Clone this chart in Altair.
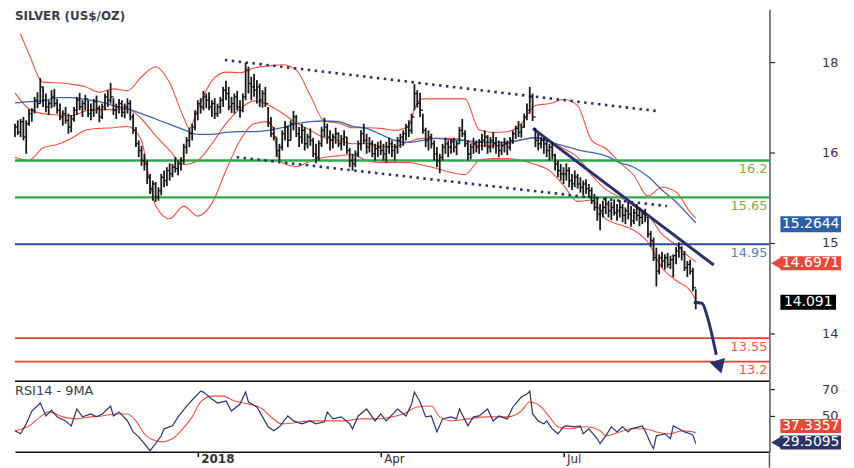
import altair as alt
import pandas as pd

TITLE = "SILVER (US$/OZ)"
RSI_TITLE = "RSI14 - 9MA"

HIGHS = [16.75, 16.80, 16.82, 16.85, 16.80, 16.97, 16.98, 17.15, 17.22, 17.43,
         17.30, 17.20, 17.10, 17.25, 17.27, 17.12, 17.05, 16.95, 17.00, 16.90,
         16.88, 17.00, 17.15, 17.21, 17.10, 17.18, 17.10, 17.05, 17.12, 17.17,
         17.02, 17.05, 17.20, 17.25, 17.36, 17.13, 17.05, 17.12, 17.10, 17.05,
         17.13, 17.10, 16.90, 16.70, 16.50, 16.42, 16.30, 16.20, 16.00, 15.90,
         15.88, 15.80, 16.00, 16.05, 16.10, 16.16, 16.15, 16.25, 16.20, 16.25,
         16.45, 16.55, 16.69, 16.75, 16.95, 17.10, 17.13, 17.24, 17.20, 17.22,
         17.10, 17.13, 17.05, 17.15, 17.30, 17.39, 17.30, 17.15, 17.20, 17.24,
         17.10, 17.20, 17.66, 17.60, 17.45, 17.49, 17.40, 17.35, 17.25, 17.30,
         17.00, 16.85, 16.70, 16.54, 16.45, 16.65, 16.79, 16.72, 16.80, 16.94,
         16.88, 16.70, 16.75, 16.70, 16.60, 16.68, 16.54, 16.45, 16.50, 16.70,
         16.84, 16.75, 16.65, 16.60, 16.69, 16.62, 16.58, 16.65, 16.55, 16.39,
         16.30, 16.35, 16.50, 16.65, 16.75, 16.60, 16.55, 16.50, 16.45, 16.48,
         16.50, 16.45, 16.48, 16.54, 16.50, 16.45, 16.55, 16.60, 16.65, 16.75,
         16.80, 16.90, 17.34, 17.25, 17.21, 16.90, 16.69, 16.65, 16.60, 16.50,
         16.40, 16.30, 16.45, 16.54, 16.50, 16.52, 16.54, 16.50, 16.70, 16.82,
         16.65, 16.50, 16.45, 16.54, 16.50, 16.52, 16.60, 16.65, 16.58, 16.55,
         16.62, 16.55, 16.50, 16.48, 16.54, 16.50, 16.55, 16.65, 16.72, 16.79,
         16.75, 16.90, 17.05, 17.30, 17.20, 16.69, 16.60, 16.55, 16.54, 16.50,
         16.45, 16.48, 16.30, 16.20, 16.15, 16.10, 16.16, 16.10, 16.00, 16.05,
         16.00, 15.95, 15.90, 15.92, 15.85, 15.80, 15.70, 15.65, 15.55, 15.60,
         15.65, 15.60, 15.58, 15.62, 15.55, 15.61, 15.55, 15.50, 15.58, 15.52,
         15.48, 15.55, 15.50, 15.45, 15.48, 15.35, 15.15, 15.05, 14.90, 14.80,
         14.84, 14.80, 14.82, 14.78, 14.80, 14.91, 14.98, 14.92, 14.85, 14.70,
         14.72, 14.60, 14.28]

LOWS = [16.55, 16.58, 16.55, 16.50, 16.30, 16.72, 16.78, 16.90, 16.98, 17.05,
        17.00, 16.92, 16.88, 16.98, 17.00, 16.90, 16.80, 16.72, 16.75, 16.60,
        16.62, 16.78, 16.88, 16.95, 16.85, 16.95, 16.85, 16.80, 16.85, 16.90,
        16.77, 16.82, 16.95, 17.00, 17.05, 16.88, 16.82, 16.90, 16.85, 16.83,
        16.90, 16.80, 16.60, 16.40, 16.25, 16.12, 16.05, 15.85, 15.70, 15.60,
        15.58, 15.60, 15.68, 15.80, 15.82, 15.90, 15.95, 16.02, 15.98, 16.05,
        16.15, 16.30, 16.40, 16.50, 16.65, 16.80, 16.90, 16.95, 16.98, 16.95,
        16.85, 16.82, 16.85, 16.90, 17.00, 17.10, 16.95, 16.91, 16.90, 16.95,
        16.84, 16.92, 17.10, 17.20, 17.10, 17.15, 17.05, 17.00, 16.99, 17.00,
        16.70, 16.55, 16.50, 16.25, 16.20, 16.35, 16.50, 16.40, 16.50, 16.65,
        16.55, 16.40, 16.45, 16.35, 16.38, 16.42, 16.25, 16.16, 16.20, 16.40,
        16.55, 16.45, 16.35, 16.38, 16.45, 16.40, 16.35, 16.42, 16.30, 16.10,
        16.05, 16.10, 16.25, 16.35, 16.45, 16.30, 16.32, 16.25, 16.20, 16.25,
        16.28, 16.20, 16.17, 16.30, 16.25, 16.20, 16.30, 16.39, 16.42, 16.50,
        16.55, 16.60, 16.95, 16.99, 16.85, 16.60, 16.40, 16.35, 16.38, 16.20,
        16.10, 16.01, 16.20, 16.30, 16.25, 16.30, 16.32, 16.28, 16.45, 16.55,
        16.40, 16.20, 16.22, 16.30, 16.32, 16.30, 16.35, 16.40, 16.30, 16.32,
        16.38, 16.30, 16.25, 16.28, 16.32, 16.28, 16.35, 16.45, 16.52, 16.55,
        16.54, 16.69, 16.80, 16.90, 16.79, 16.40, 16.35, 16.38, 16.30, 16.25,
        16.20, 16.22, 16.05, 15.95, 15.90, 15.85, 15.90, 15.80, 15.76, 15.80,
        15.78, 15.72, 15.68, 15.70, 15.65, 15.55, 15.45, 15.30, 15.16, 15.35,
        15.40, 15.35, 15.31, 15.38, 15.30, 15.35, 15.28, 15.25, 15.32, 15.21,
        15.25, 15.30, 15.22, 15.25, 15.28, 15.05, 14.91, 14.70, 14.32, 14.50,
        14.60, 14.57, 14.60, 14.58, 14.46, 14.65, 14.75, 14.71, 14.55, 14.46,
        14.50, 14.25, 13.98]

CLOSES = [16.70, 16.62, 16.78, 16.55, 16.75, 16.90, 16.95, 17.10, 17.05, 17.30,
          17.10, 17.00, 17.05, 17.15, 17.05, 16.95, 16.85, 16.90, 16.80, 16.70,
          16.82, 16.95, 17.10, 17.00, 17.05, 17.12, 16.90, 16.95, 17.08, 16.98,
          16.85, 17.00, 17.15, 17.10, 17.15, 16.95, 17.00, 17.05, 16.92, 17.00,
          17.05, 16.85, 16.65, 16.45, 16.35, 16.20, 16.15, 15.95, 15.78, 15.85,
          15.65, 15.75, 15.95, 15.90, 16.05, 16.00, 16.10, 16.08, 16.15, 16.20,
          16.40, 16.50, 16.60, 16.70, 16.90, 17.05, 17.00, 17.15, 17.10, 17.00,
          17.05, 16.90, 17.00, 17.10, 17.25, 17.20, 17.00, 17.05, 17.15, 17.00,
          16.95, 17.15, 17.55, 17.35, 17.30, 17.25, 17.30, 17.10, 17.20, 17.05,
          16.75, 16.60, 16.55, 16.35, 16.40, 16.60, 16.70, 16.50, 16.75, 16.85,
          16.60, 16.55, 16.65, 16.45, 16.55, 16.50, 16.30, 16.25, 16.45, 16.65,
          16.70, 16.55, 16.50, 16.55, 16.60, 16.45, 16.52, 16.55, 16.35, 16.20,
          16.15, 16.30, 16.45, 16.60, 16.50, 16.40, 16.45, 16.30, 16.38, 16.40,
          16.35, 16.30, 16.40, 16.45, 16.35, 16.40, 16.50, 16.55, 16.60, 16.70,
          16.65, 16.85, 17.20, 17.05, 16.95, 16.65, 16.50, 16.55, 16.45, 16.30,
          16.20, 16.25, 16.40, 16.45, 16.40, 16.48, 16.40, 16.45, 16.65, 16.60,
          16.45, 16.30, 16.40, 16.45, 16.40, 16.48, 16.50, 16.55, 16.40, 16.50,
          16.45, 16.42, 16.35, 16.42, 16.45, 16.40, 16.50, 16.60, 16.68, 16.62,
          16.70, 16.85, 16.95, 17.15, 16.85, 16.50, 16.45, 16.50, 16.45, 16.35,
          16.40, 16.28, 16.15, 16.05, 16.00, 16.00, 16.05, 15.90, 15.85, 15.95,
          15.85, 15.80, 15.85, 15.78, 15.75, 15.60, 15.50, 15.40, 15.45, 15.50,
          15.55, 15.45, 15.50, 15.42, 15.45, 15.50, 15.38, 15.45, 15.40, 15.30,
          15.42, 15.38, 15.35, 15.40, 15.35, 15.10, 15.00, 14.75, 14.55, 14.75,
          14.70, 14.75, 14.65, 14.72, 14.78, 14.85, 14.90, 14.80, 14.60, 14.65,
          14.55, 14.30, 14.09]

SAMPLE_IDX = [0, 5, 10, 15, 20, 25, 30, 35, 40, 45, 50, 55, 60, 65, 70, 75, 80, 85, 90, 95,
              100, 105, 110, 115, 120, 125, 130, 135, 140, 145, 150, 155, 160, 165, 170, 175,
              180, 185, 190, 195, 200, 205, 210, 215, 220, 225, 230, 235, 240, 242]

UPPER_IDX = [2, 5, 10, 15, 20, 25, 30, 35, 40, 45, 50, 55, 60, 62, 65, 70, 75, 80, 85, 90, 95,
             100, 105, 110, 115, 120, 125, 130, 135, 140, 142, 145, 150, 155, 160, 165, 170, 175,
             180, 185, 190, 195, 200, 205, 210, 215, 220, 225, 230, 235, 240, 242]
UPPER_VAL = [18.09, 17.79, 17.37, 17.36, 17.34, 17.30, 17.22, 17.27, 17.24, 17.45, 17.60, 17.36,
             16.84, 16.68, 16.97, 17.39, 17.52, 17.51, 17.58, 17.61, 17.63, 17.55, 17.17, 16.79,
             16.76, 16.69, 16.69, 16.68, 16.65, 16.72, 16.97, 17.12, 17.12, 17.12, 17.12, 16.66,
             16.62, 16.63, 16.75, 17.02, 17.05, 17.11, 17.02, 16.50, 16.38, 16.17, 15.98, 15.67,
             15.80, 15.73, 15.43, 15.34]

MID_VAL = [17.21, 16.97, 16.90, 16.88, 16.87, 16.94, 16.96, 16.96, 16.97, 16.82,
           16.57, 16.35, 16.14, 16.20, 16.45, 16.75, 16.97, 17.09, 17.03, 16.91,
           16.76, 16.65, 16.54, 16.50, 16.45, 16.45, 16.41, 16.41, 16.48, 16.53,
           16.53, 16.53, 16.50, 16.42, 16.42, 16.45, 16.51, 16.54, 16.48, 16.38,
           16.25, 15.98, 15.77, 15.65, 15.52, 15.39, 15.10, 14.94, 14.75, 14.69]

LOWER_IDX = [0, 5, 10, 15, 20, 25, 30, 35, 40, 45, 47, 50, 55, 60, 65, 70, 75, 80, 85, 90, 92, 93,
             95, 100, 105, 110, 115, 120, 125, 130, 135, 140, 145, 150, 155, 160, 165, 170, 175,
             180, 185, 190, 195, 200, 205, 210, 215, 220, 225, 230, 235, 240, 242]
LOWER_VAL = [16.25, 16.20, 16.39, 16.44, 16.53, 16.65, 16.68, 16.69, 16.71, 16.50, 16.08, 15.53,
             15.33, 15.52, 15.37, 15.56, 16.05, 16.50, 16.75, 16.78, 16.65, 16.35, 16.17, 16.11,
             16.19, 16.25, 16.27, 16.29, 16.20, 16.17, 16.17, 16.17, 16.13, 16.08, 16.02, 15.99,
             16.20, 16.23, 16.23, 16.20, 16.14, 16.05, 15.83, 15.59, 15.61, 15.33, 15.24, 15.16,
             14.98, 14.60, 14.41, 14.26, 14.12]

MA_VAL = [17.06, 17.08, 17.09, 17.14, 17.14, 17.11, 17.08, 17.02, 16.97, 16.90,
          16.82, 16.74, 16.66, 16.59, 16.59, 16.62, 16.63, 16.63, 16.65, 16.69,
          16.75, 16.78, 16.79, 16.78, 16.71, 16.68, 16.59, 16.50, 16.47, 16.50,
          16.53, 16.51, 16.50, 16.47, 16.47, 16.47, 16.51, 16.54, 16.48, 16.42,
          16.36, 16.32, 16.27, 16.17, 16.10, 15.96, 15.76, 15.58, 15.36, 15.27]

CH_UP_IDX = [74.6, 227.9]
CH_UP_VAL = [17.70, 16.94]
CH_LO_IDX = [78.8, 231.8]
CH_LO_VAL = [16.25, 15.52]
TREND_IDX = [184.1, 248.4]
TREND_VAL = [16.68, 14.64]
ARROW_IDX = [241.3, 244.2, 245.9, 247.7, 249.3]
ARROW_VAL = [14.08, 14.07, 13.90, 13.61, 13.30]
ARROW_HEAD_IDX = [250.4]
ARROW_HEAD_VAL = [13.12]

LEVELS = [16.2, 15.65, 14.95, 13.55, 13.2]
LEVEL_KIND = ["resistance", "resistance", "pivot", "support", "support"]

BADGE_BA = 15.2644
BADGE_BB_MID = 14.6971
BADGE_LAST = 14.091
BADGE_RSI_MA = 37.3357
BADGE_RSI = 29.5095

RSI_IDX = [0, 2, 4, 6, 9, 11, 13, 15, 18, 20, 22, 24, 27, 29, 31, 34, 35, 37, 40, 42,
           44, 46, 48, 50, 52, 53, 56, 58, 61, 64, 66, 67, 70, 72, 75, 77, 80, 82, 83, 86,
           88, 90, 92, 94, 97, 99, 102, 105, 107, 110, 111, 113, 116, 119, 120, 122, 125, 128, 130, 132,
           136, 139, 141, 142, 144, 146, 148, 150, 152, 155, 157, 158, 161, 163, 165, 168, 170, 172, 175, 177,
           180, 182, 183, 184, 186, 188, 189, 191, 193, 195, 196, 199, 201, 202, 204, 207, 208, 210, 212, 214,
           216, 218, 219, 223, 224, 226, 227, 228, 231, 233, 234, 236, 238, 240, 241, 242]
RSI_VAL = [38.9, 36.7, 44.1, 53.7, 59.6, 50.0, 54.4, 49.3, 46.3, 42.6,
           55.2, 49.3, 51.5, 49.3, 51.5, 57.4, 50.0, 53.0, 46.3, 38.1,
           34.4, 29.3, 24.1, 29.3, 35.2, 40.4, 42.6, 49.3, 57.4, 64.1,
           68.5, 67.8, 62.6, 59.6, 61.1, 53.7, 58.9, 67.8, 60.4, 56.7,
           49.3, 41.9, 38.9, 41.9, 50.0, 46.3, 44.1, 46.3, 44.1, 45.6,
           53.0, 47.8, 49.3, 44.1, 40.4, 50.0, 55.2, 46.3, 51.5, 46.3,
           55.2, 50.0, 58.9, 67.8, 60.4, 49.3, 50.0, 38.1, 47.8, 49.3,
           47.8, 55.2, 42.6, 49.3, 50.0, 55.2, 46.3, 50.0, 47.8, 56.7,
           64.1, 66.3, 68.5, 51.5, 46.3, 44.1, 46.3, 40.4, 36.7, 41.9,
           42.6, 41.9, 42.6, 36.7, 40.4, 33.0, 29.3, 35.2, 41.9, 38.1,
           41.9, 38.1, 40.4, 42.6, 38.9, 29.3, 25.6, 35.2, 36.7, 33.0,
           42.6, 40.4, 38.1, 36.7, 35.5, 29.51]

RSIMA_IDX = [0, 5, 9, 12, 17, 22, 27, 31, 36, 40, 43, 46, 50, 52, 56, 59, 63, 66, 70, 74,
             78, 83, 88, 91, 95, 99, 105, 111, 117, 123, 129, 134, 138, 143, 148, 151, 155, 161, 168, 175,
             180, 183, 187, 190, 193, 197, 203, 208, 210, 215, 219, 224, 228, 233, 237, 241, 242]
RSIMA_VAL = [38.9, 42.6, 49.3, 53.0, 49.3, 47.8, 49.3, 50.0, 51.5, 51.5,
             46.3, 36.7, 31.5, 30.7, 33.0, 38.9, 49.3, 60.4, 64.8, 64.8,
             61.1, 58.9, 55.2, 49.3, 44.1, 44.8, 46.3, 46.3, 46.3, 47.8,
             47.8, 49.3, 51.5, 56.7, 57.4, 49.3, 46.3, 47.8, 49.3, 49.3,
             53.7, 60.4, 56.7, 49.3, 41.9, 40.4, 41.9, 38.9, 35.2, 38.1,
             40.4, 40.4, 38.1, 36.7, 38.9, 38.1, 37.34]

X_TICKS = [65, 130, 195]
X_LABELS = ["2018", "Apr", "Jul"]
Y_TICKS = [17.67, 16.32, 14.97, 13.62]
Y_LABELS = ["18", "16", "15", "14"]
RSI_TICKS = [70, 50]

# ---------------- layout / style ----------------
W = 759
H_MAIN = 374
H_RSI = 71
X_DOMAIN = [0, 268.2]
PRICE_DOMAIN = [12.907, 18.456]
RSI_DOMAIN = [23.33, 75.93]
FONT = "DejaVu Sans"
NAVY = "#2b2f6b"
BAND_RED = "#f0503f"
MA_BLUE = "#3f63b5"


def label_expr(vals, labels):
    expr = "''"
    for v, l in reversed(list(zip(vals, labels))):
        expr = f"datum.value == {v} ? '{l}' : {expr}"
    return expr


XS = alt.Scale(domain=X_DOMAIN, nice=False, zero=False)
PS = alt.Scale(domain=PRICE_DOMAIN, nice=False, zero=False)
RS = alt.Scale(domain=RSI_DOMAIN, nice=False, zero=False)

right_axis_style = dict(orient="right", title=None, grid=False, domainColor="#555",
                        domainWidth=1.5, tickColor="#222", tickSize=5, tickWidth=1.2,
                        labelAlign="right", labelPadding=64, labelFontSize=13,
                        labelColor="#3a3340", labelFont=FONT)
PAX = alt.Axis(values=Y_TICKS, labelExpr=label_expr(Y_TICKS, Y_LABELS), **right_axis_style)
RAX = alt.Axis(values=RSI_TICKS, **right_axis_style)
XAX = alt.Axis(values=X_TICKS, labelExpr=label_expr(X_TICKS, X_LABELS), title=None, grid=False,
               domainColor="#111", domainWidth=1.5, tickColor="#111", tickSize=5, tickWidth=1.5,
               labelAlign="left", labelOffset=3, labelPadding=-3, labelBaseline="top",
               labelFont=FONT, labelFontSize=12, labelColor="#333",
               labelFontWeight={"condition": {"test": f"datum.value == {X_TICKS[0]}", "value": "bold"},
                                "value": "normal"})

MX = alt.X("i:Q", scale=XS, axis=None)


def py(field="v"):
    return alt.Y(f"{field}:Q", scale=PS, axis=PAX)


def ry(field="v"):
    return alt.Y(f"{field}:Q", scale=RS, axis=RAX)


def series(idx, vals):
    return pd.DataFrame({"i": idx, "v": vals})


def pline(df, color, width=1.0, interp="monotone", dash=None):
    kw = dict(color=color, strokeWidth=width, interpolate=interp, clip=True)
    if dash:
        kw["strokeDash"] = dash
        kw["strokeCap"] = "butt"
    return alt.Chart(df).mark_line(**kw).encode(x=MX, y=py())


layers = []
# Bollinger bands and moving average
layers.append(pline(series(UPPER_IDX, UPPER_VAL), BAND_RED, 1.1))
layers.append(pline(series(SAMPLE_IDX, MID_VAL), BAND_RED, 1.1))
layers.append(pline(series(LOWER_IDX, LOWER_VAL), BAND_RED, 1.1))
layers.append(pline(series(SAMPLE_IDX, MA_VAL), MA_BLUE, 1.3))

# horizontal levels
lev_df = pd.DataFrame({"v": LEVELS, "kind": LEVEL_KIND, "t": [str(v) for v in LEVELS]})
LEVEL_STYLE = {
    "resistance": ("#2fa84c", "#86a84a", 2.4),
    "pivot": ("#2b4c9e", "#5a7cc4", 2.2),
    "support": ("#e8412c", "#f05a48", 1.8),
}
for kind, (lc, tc, w) in LEVEL_STYLE.items():
    base = alt.Chart(lev_df).transform_filter(alt.datum.kind == kind)
    layers.append(base.mark_rule(color=lc, strokeWidth=w).encode(y=py()))
    layers.append(base.mark_text(align="right", baseline="middle", dy=9, color=tc,
                                 fontSize=13, font=FONT)
                  .encode(x=alt.value(757), y=py(), text="t:N"))

# channel (dotted) lines and trend line
layers.append(pline(series(CH_UP_IDX, CH_UP_VAL), NAVY, 2.6, "linear", [2.5, 4.5]))
layers.append(pline(series(CH_LO_IDX, CH_LO_VAL), NAVY, 2.6, "linear", [2.5, 4.5]))
layers.append(pline(series(TREND_IDX, TREND_VAL), NAVY, 3.0, "linear"))

# price bars
bars_df = pd.DataFrame({"i": list(range(len(HIGHS))), "h": HIGHS, "l": LOWS, "c": CLOSES})
layers.append(alt.Chart(bars_df).mark_rule(color="#1a1a1a", strokeWidth=1.8)
              .encode(x=MX, y=py("l"), y2="h:Q"))
layers.append(alt.Chart(bars_df).mark_tick(orient="horizontal", size=3, thickness=1.3,
                                           xOffset=1.5, color="#1a1a1a", opacity=1)
              .encode(x=MX, y=py("c")))

# projection arrow
layers.append(pline(series(ARROW_IDX, ARROW_VAL), NAVY, 3.0, "monotone"))
layers.append(alt.Chart(series(ARROW_HEAD_IDX, ARROW_HEAD_VAL))
              .mark_point(shape="triangle-down", filled=True, size=260, angle=343,
                          color=NAVY, opacity=1, strokeWidth=0)
              .encode(x=MX, y=py()))

# title
layers.append(alt.Chart(pd.DataFrame({"t": [TITLE]}))
              .mark_text(align="left", baseline="middle", font=FONT, fontSize=12,
                         fontWeight="bold", color="#3b3b4b")
              .encode(x=alt.value(0), y=alt.value(7), text="t:N"))


def badge(value, fill, x0, x1, off0, off1, yenc, arrow=False, tx=None):
    df = pd.DataFrame({"v": [value], "t": [str(value)]})
    base = alt.Chart(df)
    out = [
        base.mark_rect(color=fill, yOffset=off0, y2Offset=off1)
        .encode(x=alt.value(x0), x2=alt.value(x1), y=yenc, y2="v:Q"),
        base.mark_text(color="white", fontSize=14, font=FONT, align="center",
                       baseline="middle", dy=(off0 + off1) / 2)
        .encode(x=alt.value(tx if tx else (x0 + x1) / 2), y=yenc, text="t:N"),
    ]
    if arrow:
        out.append(base.mark_point(shape="triangle-left", filled=True, size=150, color=fill,
                                   opacity=1, strokeWidth=0, yOffset=(off0 + off1) / 2)
                   .encode(x=alt.value(x0 - 4), y=yenc))
    return out


layers += badge(BADGE_BA, "#2d5fa8", 770, 831, -7, 9, py())
layers += badge(BADGE_BB_MID, "#e8483a", 770, 831, -5, 9, py(), arrow=True)
layers += badge(BADGE_LAST, "#000000", 770, 826, -7, 8, py())

main = alt.layer(*layers).properties(width=W, height=H_MAIN)

# ---------------- RSI panel ----------------
RX = alt.X("i:Q", scale=XS, axis=XAX)
rl = []
rl.append(alt.Chart(pd.DataFrame({"a": [0]})).mark_rule(color="#111", strokeWidth=1.5)
          .encode(x=alt.value(0), x2=alt.value(W), y=alt.value(0)))
rl.append(alt.Chart(series(RSIMA_IDX, RSIMA_VAL))
          .mark_line(color=BAND_RED, strokeWidth=1.1, interpolate="monotone")
          .encode(x=RX, y=ry()))
rl.append(alt.Chart(series(RSI_IDX, RSI_VAL))
          .mark_line(color="#2e3370", strokeWidth=1.2)
          .encode(x=RX, y=ry()))
rl.append(alt.Chart(pd.DataFrame({"t": [RSI_TITLE]}))
          .mark_text(align="left", baseline="middle", font=FONT, fontSize=13, color="#3b3b4b")
          .encode(x=alt.value(0), y=alt.value(10), text="t:N"))
rl.append(alt.Chart(pd.DataFrame({"a": [0]})).mark_rule(color="#555", strokeWidth=1.5)
          .encode(x=alt.value(W), y=alt.value(H_RSI), y2=alt.value(H_RSI + 16)))
rl += badge(BADGE_RSI_MA, "#e8483a", 770, 831, -14, 0, ry())
rl += badge(BADGE_RSI, "#2e3366", 770, 831, -8, 6, ry(), arrow=True)

rsi = alt.layer(*rl).properties(width=W, height=H_RSI)

chart = (
    alt.vconcat(main, rsi, spacing=0, bounds="flush")
    .properties(padding={"left": 4, "top": 0, "right": 5, "bottom": 0})
    .configure_view(stroke=None)
    .configure_axis(labelFont=FONT)
)

chart.save("out.html", embed_options={"renderer": "svg", "actions": False})
